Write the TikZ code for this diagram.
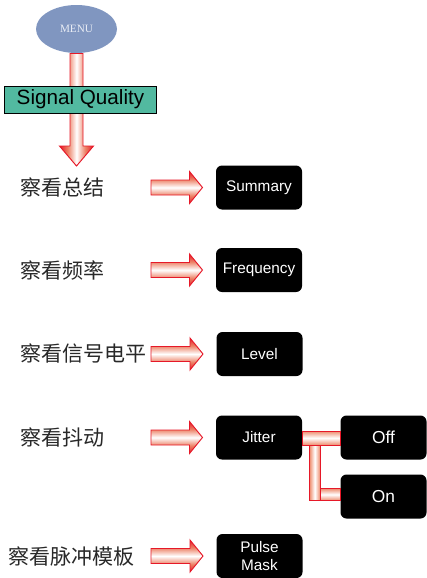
\documentclass[tikz,border=0pt]{standalone}
\usepackage{fontspec}
\usetikzlibrary{calc}
\newfontfamily\cjkfont{Noto Sans CJK SC}
\newfontfamily\arialfont{Liberation Sans}
\newfontfamily\timesfont{Liberation Serif}

\definecolor{arrowred}{RGB}{230,24,40}
\definecolor{arrowsalmon}{RGB}{236,128,100}
\definecolor{barpeach}{RGB}{238,140,110}
\definecolor{menublue}{RGB}{128,150,192}
\definecolor{sqteal}{RGB}{82,185,160}
\definecolor{labelgray}{RGB}{40,40,40}

\pgfdeclareverticalshading{arrowshadeh}{100bp}{color(0bp)=(arrowred); color(25bp)=(arrowred); color(37bp)=(arrowsalmon); color(50bp)=(white); color(63bp)=(arrowsalmon); color(75bp)=(arrowred); color(100bp)=(arrowred)}
\pgfdeclarehorizontalshading{arrowshadev}{100bp}{color(0bp)=(arrowred); color(25bp)=(arrowred); color(37bp)=(arrowsalmon); color(50bp)=(white); color(63bp)=(arrowsalmon); color(75bp)=(arrowred); color(100bp)=(arrowred)}

\tikzset{every picture/.style={line width=0.75pt},
  menu/.style={ellipse, fill=menublue, minimum width=60.75pt, minimum height=36pt, text={rgb,255:red,232;green,236;blue,244}, font=\timesfont\fontsize{8.4pt}{10pt}\selectfont},
  sqbox/.style={draw=black, fill=sqteal, minimum width=114pt, minimum height=20.25pt, inner sep=0pt, font=\arialfont\fontsize{15.5pt}{18pt}\selectfont},
  btn/.style={fill=black, rounded corners=4.5pt, minimum width=64.5pt, minimum height=33pt, inner sep=0pt, text=white, align=center, font=\arialfont\fontsize{11.5pt}{14pt}\selectfont},
  btnbig/.style={btn, font=\arialfont\fontsize{13pt}{15pt}\selectfont},
  cjklabel/.style={anchor=west, inner sep=0pt, text=labelgray, font=\cjkfont\fontsize{15.75pt}{18pt}\selectfont},
  blockarrow/.style={draw=arrowred, line width=0.7pt, shade},
  hbar/.style={draw=arrowred, line width=0.7pt, top color=barpeach, bottom color=barpeach, middle color=white},
  vbar/.style={draw=arrowred, line width=0.7pt, left color=barpeach, right color=barpeach, middle color=white}
}

% horizontal block arrow: tail #1, tip #2
\newcommand\hblockarrow[2]{%
  \path[blockarrow, shading=arrowshadeh] ($(#1)+(0,-7.5)$) -- ($(#2)+(-13,-7.5)$) -- ($(#2)+(-13,-16)$) -- (#2)
    -- ($(#2)+(-13,16)$) -- ($(#2)+(-13,7.5)$) -- ($(#1)+(0,7.5)$) -- cycle;}
% vertical block arrow: tail #1, tip #2
\newcommand\vblockarrow[2]{%
  \path[blockarrow, shading=arrowshadev] ($(#1)+(-6.5,0)$) -- ($(#2)+(-6.5,-20)$) -- ($(#2)+(-17,-20)$) -- (#2)
    -- ($(#2)+(17,-20)$) -- ($(#2)+(6.5,-20)$) -- ($(#1)+(6.5,0)$) -- cycle;}

\usetikzlibrary{shapes.geometric}

\begin{document}
\begin{tikzpicture}[x=0.75pt,y=0.75pt,yscale=-1]
		\useasboundingbox (0,0) rectangle (427,578);

		%Shape: Ellipse [id:menu]
		\node[menu] (menu) at (76.5,29) {MENU};
		\coordinate (menutip) at (76.5,166);
		%Shape: Block Arrow [id:menudown]
		\vblockarrow{menu.south}{menutip}
		%Shape: Rectangle [id:sigqual]
		\node[sqbox] (sigqual) at (80.5,99.5) {Signal Quality};

		% Text Node
		\node[cjklabel] (lsum) at (20,187.5) {察看总结};
		% Text Node
		\node[cjklabel] (lfreq) at (20,270) {察看频率};
		% Text Node
		\node[cjklabel] (llevel) at (20,354) {察看信号电平};
		% Text Node
		\node[cjklabel] (ljit) at (20,437.5) {察看抖动};
		% Text Node
		\node[cjklabel] (lpulse) at (8,556) {察看脉冲模板};

		%Shape: Rounded Rect [id:summary]
		\node[btn] (summary) at (259,187.5) {Summary};
		%Shape: Rounded Rect [id:freq]
		\node[btn] (freq) at (259,270) {Frequency};
		%Shape: Rounded Rect [id:level]
		\node[btn] (level) at (259.5,354) {Level};
		%Shape: Rounded Rect [id:jitter]
		\node[btn] (jitter) at (259,437.5) {Jitter};
		%Shape: Rounded Rect [id:off]
		\node[btnbig] (off) at (383.5,437.5) {Off};
		%Shape: Rounded Rect [id:on]
		\node[btnbig] (on) at (383.5,496.5) {On};
		%Shape: Rounded Rect [id:pulse]
		\node[btn] (pulse) at (259.5,556) {Pulse\\Mask};

		% arrow tails
		\coordinate (tsum) at (151,187.5);
		\coordinate (tfreq) at (151,270);
		\coordinate (tlevel) at (151,354);
		\coordinate (tjit) at (151,437.5);
		\coordinate (tpulse) at (151,556);

		%Shape: Block Arrows
		\hblockarrow{tsum}{$(summary.west)+(-13,0)$}
		\hblockarrow{tfreq}{$(freq.west)+(-13,0)$}
		\hblockarrow{tlevel}{$(level.west)+(-13,0)$}
		\hblockarrow{tjit}{$(jitter.west)+(-13,0)$}
		\hblockarrow{tpulse}{$(pulse.west)+(-13,0)$}

		%Shape: Bars [id:jitterlinks]
		\path[vbar] ($(jitter.east)+(7,7)$) rectangle ($(on.west)+(-20,4)$);
		\path[hbar] ($(on.west)+(-20,-8)$) rectangle ($(on.west)+(0,4)$);
		\path[hbar] ($(jitter.east)+(0,-6.5)$) rectangle ($(off.west)+(0,7.5)$);

\end{tikzpicture}
\end{document}
